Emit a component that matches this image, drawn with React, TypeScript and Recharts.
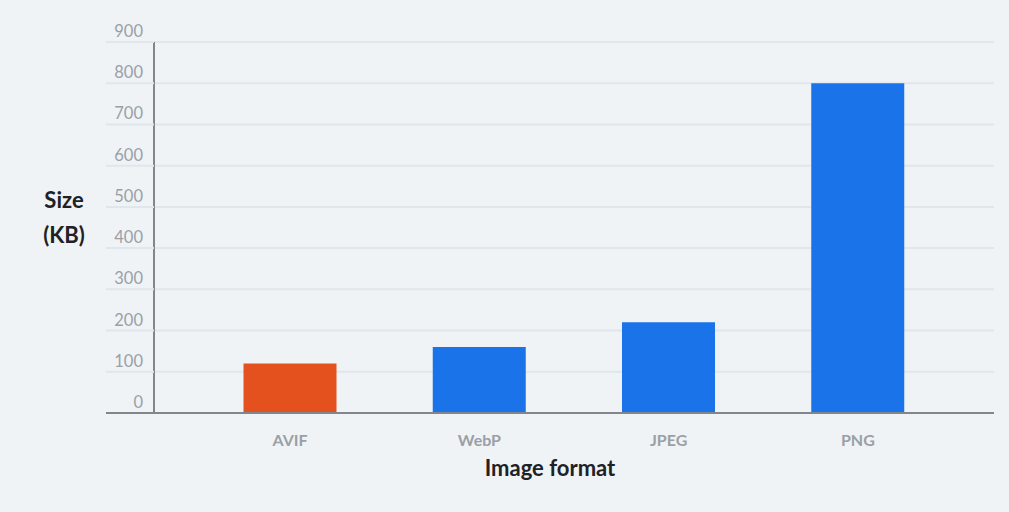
import { Bar, BarChart, CartesianGrid, Cell, XAxis, YAxis } from 'recharts'

const formats = ['AVIF', 'WebP', 'JPEG', 'PNG']
const sizesKb = [120, 160, 220, 800]
const barColors = ['#e4511f', '#1a73e8', '#1a73e8', '#1a73e8']
const yTicks = [0, 100, 200, 300, 400, 500, 600, 700, 800, 900]

const FONT = 'Lato, "Noto Sans", sans-serif'
const GRID = '#dfe6ec'
const AXIS = '#80868b'
const TICK_TEXT = '#9aa0a6'
const LABEL_TEXT = '#202124'
const GRID_EXTEND = 48

const data = formats.map((format, i) => ({ format, size: sizesKb[i], color: barColors[i] }))

function YTick(props: any) {
  const { x, y, payload } = props
  const axisX = x + 11
  const isZero = payload.value === 0
  return (
    <g>
      <line
        x1={axisX - GRID_EXTEND}
        x2={axisX}
        y1={y}
        y2={y}
        stroke={isZero ? AXIS : GRID}
        strokeWidth={2}
      />
      <text x={x} y={y - 5} textAnchor="end" fill={TICK_TEXT} fontSize={16.5} fontFamily={FONT}>
        {payload.value}
      </text>
    </g>
  )
}

function YLabel(props: any) {
  const { viewBox } = props
  const cx = viewBox.x - 30
  const cy = viewBox.y + viewBox.height / 2
  return (
    <text textAnchor="middle" fill={LABEL_TEXT} fontSize={22} fontWeight={700} fontFamily={FONT}>
      <tspan x={cx} y={cy - 20}>Size</tspan>
      <tspan x={cx} y={cy + 15}>(KB)</tspan>
    </text>
  )
}

function XLabel(props: any) {
  const { viewBox } = props
  const cx = viewBox.x + viewBox.width / 2 - GRID_EXTEND / 2
  return (
    <text x={cx} y={viewBox.y + 63} textAnchor="middle" fill={LABEL_TEXT} fontSize={22} fontWeight={700} fontFamily={FONT}>
      Image format
    </text>
  )
}

export default function App() {
  return (
    <div style={{ position: 'fixed', inset: 0, background: '#eff3f6' }}>
      <BarChart
        width={1009}
        height={512}
        data={data}
        margin={{ top: 42, right: 15, bottom: 59, left: 94 }}
        barSize={93}
      >
        <CartesianGrid horizontal vertical={false} stroke={GRID} strokeWidth={2} />
        <XAxis
          dataKey="format"
          padding={{ left: 41.5, right: 41.5 }}
          axisLine={{ stroke: AXIS, strokeWidth: 2 }}
          tickLine={false}
          tickMargin={16}
          tick={{ fill: TICK_TEXT, fontSize: 16, fontWeight: 700, fontFamily: FONT }}
          label={<XLabel />}
          height={40}
        />
        <YAxis
          width={60}
          domain={[0, 900]}
          ticks={yTicks}
          interval={0}
          axisLine={{ stroke: AXIS, strokeWidth: 2 }}
          tickLine={false}
          tickSize={0}
          tickMargin={11}
          tick={<YTick />}
          label={<YLabel />}
        />
        <Bar dataKey="size" isAnimationActive={false}>
          {data.map((d) => (
            <Cell key={d.format} fill={d.color} />
          ))}
        </Bar>
      </BarChart>
    </div>
  )
}
